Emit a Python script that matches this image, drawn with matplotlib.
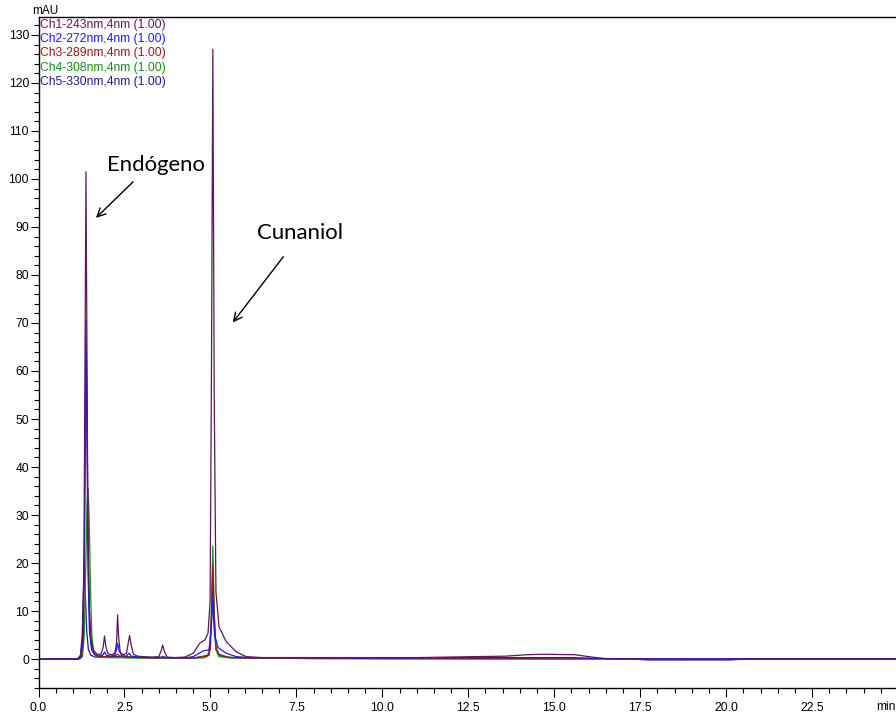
import matplotlib
matplotlib.use("Agg")
import matplotlib.pyplot as plt
from matplotlib.ticker import MultipleLocator

# --- chromatogram traces, (time [min], absorbance [mAU]) ---
CH1_POINTS = [(0, 0), (1.12, 0), (1.22, 0.6), (1.28, 4), (1.32, 20), (1.35, 60), (1.38, 101.5),
              (1.41, 62), (1.44, 25), (1.48, 10), (1.53, 4), (1.60, 1.8), (1.70, 1.0), (1.82, 1.0),
              (1.88, 2.5), (1.92, 4.8), (1.96, 2.5), (2.02, 1.1), (2.12, 0.9), (2.22, 1.2), (2.27, 3.5),
              (2.30, 9.2), (2.33, 4.5), (2.38, 1.3), (2.47, 0.9), (2.56, 1.2), (2.62, 3.8), (2.65, 4.9),
              (2.69, 3.0), (2.76, 1.0), (2.88, 0.6), (3.05, 0.5), (3.30, 0.4), (3.50, 0.5), (3.57, 1.8),
              (3.61, 2.9), (3.66, 1.6), (3.74, 0.4), (3.95, 0.3), (4.25, 0.4), (4.50, 1.2), (4.69, 3.3),
              (4.84, 4.0), (4.93, 5.4), (4.99, 12), (5.03, 60), (5.07, 127), (5.11, 55), (5.16, 14),
              (5.25, 6.7), (5.46, 3.6), (5.75, 1.5), (6.04, 0.5), (6.5, 0.3), (7.5, 0.3), (9.0, 0.3),
              (11.0, 0.3), (12.7, 0.5), (13.6, 0.6), (14.2, 0.9), (14.7, 1.0), (15.1, 0.95),
              (15.6, 0.9), (16.0, 0.5), (16.56, 0.0), (17.3, 0), (17.7, -0.2), (20.1, -0.2),
              (20.6, 0), (24.94, 0)]
CH2_POINTS = [(0, 0), (1.15, 0), (1.24, 0.6), (1.29, 4), (1.33, 22), (1.36, 50), (1.38, 70.5),
              (1.41, 45), (1.44, 18), (1.48, 6), (1.54, 2), (1.62, 1.0), (1.75, 0.6), (1.87, 0.8),
              (1.92, 1.5), (1.97, 0.8), (2.1, 0.6), (2.22, 0.8), (2.27, 2.0), (2.30, 3.3), (2.34, 1.8),
              (2.42, 0.7), (2.55, 0.6), (2.63, 1.2), (2.70, 0.6), (2.9, 0.4), (3.5, 0.3), (3.62, 0.5),
              (3.75, 0.3), (4.3, 0.3), (4.5, 0.5), (4.79, 1.7), (4.96, 1.9), (5.02, 6), (5.07, 12.3),
              (5.12, 5), (5.22, 2.4), (5.46, 1.2), (5.75, 0.5), (6.2, 0.3), (8, 0.3), (10, 0.2),
              (12, 0.3), (14, 0.3), (15.5, 0.3), (16.6, 0.1), (17.5, 0), (24.94, 0)]
CH3_POINTS = [(0, 0), (1.16, 0), (1.25, 0.5), (1.30, 4), (1.34, 25), (1.37, 52), (1.39, 65.8),
              (1.42, 42), (1.46, 15), (1.50, 5), (1.56, 1.8), (1.65, 0.8), (1.8, 0.5), (2.2, 0.5),
              (2.28, 0.9), (2.31, 1.0), (2.36, 0.6), (2.6, 0.5), (3.0, 0.3), (4.5, 0.2), (4.9, 0.6),
              (5.0, 2), (5.04, 12), (5.07, 19.6), (5.11, 9), (5.16, 2.5), (5.25, 1.0), (5.5, 0.4),
              (6, 0.2), (10, 0.1), (24.94, 0)]
CH4_POINTS = [(0, 0), (1.2, 0), (1.28, 0.5), (1.33, 5), (1.37, 18), (1.41, 32), (1.44, 35.5),
              (1.47, 30), (1.51, 15), (1.55, 5), (1.60, 1.5), (1.7, 0.5), (2.0, 0.3), (3.0, 0.2),
              (4.8, 0.2), (4.97, 0.8), (5.02, 8), (5.07, 23.5), (5.11, 10), (5.16, 2), (5.25, 0.5),
              (5.6, 0.2), (8, 0.1), (24.94, 0)]
CH5_POINTS = [(0, 0), (1.14, 0), (1.22, 0.8), (1.27, 5), (1.31, 15), (1.33, 19.5), (1.36, 14),
              (1.40, 6), (1.45, 2), (1.52, 0.8), (1.65, 0.4), (2.3, 0.5), (2.6, 0.3), (4.5, 0.2),
              (4.95, 0.8), (5.02, 6), (5.07, 16.5), (5.11, 7), (5.16, 2), (5.25, 0.7), (5.6, 0.3),
              (8, 0.1), (24.94, 0)]

CHANNEL_LABELS = ["Ch1-243nm,4nm (1.00)", "Ch2-272nm,4nm (1.00)", "Ch3-289nm,4nm (1.00)",
                  "Ch4-308nm,4nm (1.00)", "Ch5-330nm,4nm (1.00)"]
CHANNEL_COLORS = ["#5E175E", "#1A1AFF", "#A01818", "#139213", "#1C1C96"]
CHANNELS = [CH1_POINTS, CH2_POINTS, CH3_POINTS, CH4_POINTS, CH5_POINTS]

PEAK_NAMES = ["Endógeno", "Cunaniol"]
PEAK_TEXT_POS = [(1.98, 101.7), (6.36, 87.4)]
PEAK_ARROW_TAIL = [(2.75, 99.4), (7.12, 83.8)]
PEAK_ARROW_HEAD = [(1.67, 91.9), (5.65, 70.1)]

plt.rcParams['font.family'] = ['Liberation Sans', 'DejaVu Sans']

fig = plt.figure(figsize=(8.96, 7.17), dpi=100)
ax = fig.add_axes([0.043, 0.040, 0.957, 0.9367])

# draw Ch5 first so Ch1 ends up on top
for pts, col in reversed(list(zip(CHANNELS, CHANNEL_COLORS))):
    t = [p[0] for p in pts]
    y = [p[1] for p in pts]
    ax.plot(t, y, color=col, lw=0.9, solid_joinstyle='round')

ax.set_xlim(0, 24.94)
ax.set_ylim(-6.1, 133.8)

ax.xaxis.set_minor_locator(MultipleLocator(0.5))
ax.yaxis.set_minor_locator(MultipleLocator(2))
ax.set_yticks(list(range(0, 131, 10)))
ax.set_xticks([i * 2.5 for i in range(10)])
ax.set_xticklabels([f"{i * 2.5:.1f}" for i in range(10)])

ax.tick_params(axis='x', which='major', length=6.5, width=0.8, pad=3, labelsize=8.7, direction='out')
ax.tick_params(axis='x', which='minor', length=3.6, width=0.8, direction='out')
ax.tick_params(axis='y', which='major', length=5.8, width=0.8, pad=1, labelsize=8.7, direction='out')
ax.tick_params(axis='y', which='minor', length=3.6, width=0.8, direction='out')

ax.spines['right'].set_visible(False)
for s in ['left', 'top', 'bottom']:
    ax.spines[s].set_linewidth(1.0)

# axis unit labels
fig.text(45 / 896, 1 - 10.5 / 717, "mAU", fontsize=8.5, ha='center', va='center')
fig.text(876 / 896, 1 - 707 / 717, "min", fontsize=8.7, ha='left', va='center')

for i, (lab, col) in enumerate(zip(CHANNEL_LABELS, CHANNEL_COLORS)):
    fig.text(39.5 / 896, 1 - (25 + i * 14.2) / 717, lab, color=col, fontsize=8.7,
             ha='left', va='center')

for name, pos, tail, head in zip(PEAK_NAMES, PEAK_TEXT_POS, PEAK_ARROW_TAIL, PEAK_ARROW_HEAD):
    ax.text(pos[0], pos[1], name, fontsize=15.9, family=['Lato', 'DejaVu Sans'],
            ha='left', va='baseline')
    ax.annotate("", xy=head, xytext=tail,
                arrowprops=dict(arrowstyle='->', color='black', lw=1.0,
                                mutation_scale=15, shrinkA=0, shrinkB=0))

fig.savefig("out.png", dpi=100)
